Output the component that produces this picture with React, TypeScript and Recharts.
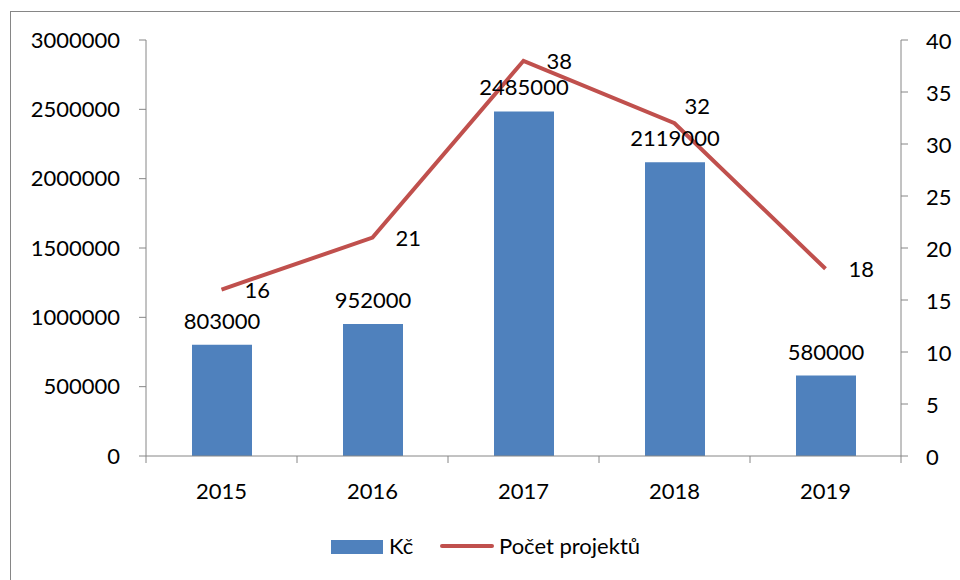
import { ComposedChart, Bar, Line, XAxis, YAxis, LabelList } from 'recharts'

const YEARS = ['2015', '2016', '2017', '2018', '2019']
const CZK = [803000, 952000, 2485000, 2119000, 580000]
const PROJECTS = [16, 21, 38, 32, 18]
const LEFT_TICKS = [0, 500000, 1000000, 1500000, 2000000, 2500000, 3000000]
const RIGHT_TICKS = [0, 5, 10, 15, 20, 25, 30, 35, 40]
const BAR_NAME = 'Kč'
const LINE_NAME = 'Počet projektů'

const data = YEARS.map((year, i) => ({ year, czk: CZK[i], projects: PROJECTS[i] }))

const FONT = 'Lato, "Open Sans", sans-serif'
const AXIS = '#868686'
const BLUE = '#4F81BD'
const RED = '#C0504D'
const BAND = (901 - 146) / YEARS.length

// category axis: label in the middle, tick marks on the category edges
const XTick = ({ x, y, payload, index }: any) => {
  const left = x - BAND / 2
  return (
    <g>
      <line x1={left} y1={y} x2={left} y2={y + 7} stroke={AXIS} />
      {index === YEARS.length - 1 && (
        <line x1={left + BAND} y1={y} x2={left + BAND} y2={y + 7} stroke={AXIS} />
      )}
      <text x={x} y={y + 43} textAnchor="middle" fontSize={22} fontFamily={FONT} fill="#000">
        {payload.value}
      </text>
    </g>
  )
}

const RightTick = ({ x, y, payload }: any) => (
  <text x={x} y={y} textAnchor="start" dominantBaseline="central" fontSize={22} fontFamily={FONT} fill="#000">
    {payload.value}
  </text>
)

const LineLabel = ({ x, y, value, index }: any) => {
  // Excel pushed the 2018 label up so it doesn't sit on the bar label
  const up = index === 3
  return (
    <text
      x={x + (up ? 10 : 23)}
      y={y + (up ? -18 : 0)}
      dominantBaseline="central"
      fontSize={22}
      fontFamily={FONT}
      fill="#000"
    >
      {value}
    </text>
  )
}

export default function App() {
  return (
    <div style={{ position: 'absolute', left: 0, top: 0, width: 960, height: 580, overflow: 'hidden', background: '#fff' }}>
      <div style={{ position: 'absolute', left: 10, top: 11, width: 1000, height: 700, border: `1px solid ${AXIS}` }} />
      <ComposedChart
        width={960}
        height={580}
        data={data}
        margin={{ top: 40, right: 0, left: 10, bottom: 84 }}
        style={{ position: 'absolute', left: 0, top: 0 }}
      >
        <XAxis
          dataKey="year"
          height={40}
          stroke={AXIS}
          tickLine={false}
          tickSize={0}
          tickMargin={0}
          tick={<XTick />}
        />
        <YAxis
          yAxisId="left"
          domain={[0, 3000000]}
          ticks={LEFT_TICKS}
          width={136}
          stroke={AXIS}
          tickSize={7}
          tickMargin={19}
          tick={{ fill: '#000', fontSize: 22, fontFamily: FONT }}
          interval={0}
        />
        <YAxis
          yAxisId="right"
          orientation="right"
          domain={[0, 40]}
          ticks={RIGHT_TICKS}
          width={59}
          stroke={AXIS}
          tickSize={7}
          tickMargin={18}
          tick={<RightTick />}
          interval={0}
        />
        <Bar yAxisId="left" dataKey="czk" name={BAR_NAME} fill={BLUE} barSize={60} isAnimationActive={false}>
          <LabelList dataKey="czk" position="top" offset={16} fill="#000" fontSize={22} fontFamily={FONT} />
        </Bar>
        <Line
          yAxisId="right"
          dataKey="projects"
          name={LINE_NAME}
          stroke={RED}
          strokeWidth={4}
          dot={false}
          type="linear"
          isAnimationActive={false}
        >
          <LabelList dataKey="projects" content={<LineLabel />} />
        </Line>
      </ComposedChart>
      <div style={{ position: 'absolute', left: 331, top: 540, width: 52, height: 14, background: BLUE }} />
      <div style={{ position: 'absolute', left: 389, top: 532, fontFamily: FONT, fontSize: 22, lineHeight: '28px' }}>{BAR_NAME}</div>
      <div style={{ position: 'absolute', left: 440, top: 544, width: 54, height: 4, borderRadius: 2, background: RED }} />
      <div style={{ position: 'absolute', left: 499, top: 532, fontFamily: FONT, fontSize: 22, lineHeight: '28px' }}>{LINE_NAME}</div>
    </div>
  )
}
